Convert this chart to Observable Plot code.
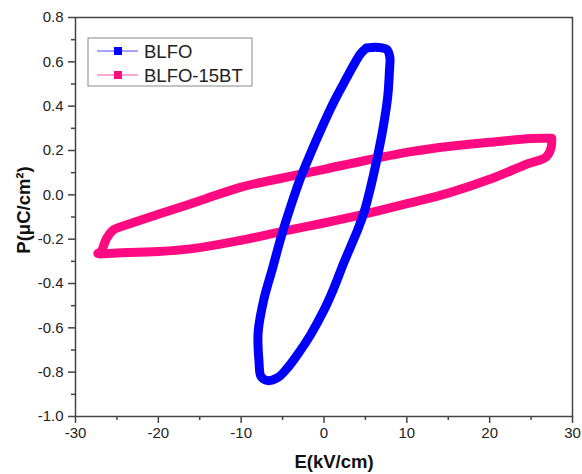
<!DOCTYPE html>
<html>
<head>
<meta charset="utf-8">
<script src="https://cdn.jsdelivr.net/npm/d3@7"></script>
<script src="https://cdn.jsdelivr.net/npm/@observablehq/plot@0.6"></script>
<style>
  html, body { margin: 0; padding: 0; background: #fff; }
  #chart { position: relative; width: 582px; height: 474px; }
</style>
</head>
<body>
<div id="chart"></div>
<script>
// BLFO loop (E in kV/cm, P in μC/cm²), closed
const E_BLFO = [5.1, 6.5, 7.6, 7.95, 7.9, 7.7, 7.1, 6.3, 5.6, 4.9, 4.1, 3.2, 2.3, 1.2, 0.0, -1.6, -3.0, -4.5, -5.6, -6.8, -7.6, -7.85, -7.95, -7.25, -6.2, -5.1, -4.0, -2.9, -1.7, -0.3, 1.2, 2.7, 3.8, 4.5, 5.1];
const P_BLFO = [0.662, 0.665, 0.655, 0.62, 0.56, 0.446, 0.295, 0.145, 0.03, -0.07, -0.155, -0.235, -0.315, -0.42, -0.52, -0.63, -0.71, -0.785, -0.825, -0.838, -0.82, -0.75, -0.62, -0.47, -0.33, -0.18, -0.05, 0.07, 0.18, 0.3, 0.42, 0.525, 0.6, 0.64, 0.662];

// BLFO-15BT loop, closed
const E_BT = [27.5, 25, 20, 15, 10.5, 5, 0, -5, -10, -15, -20, -23, -25.5, -26.3, -26.9, -27.3, -25, -20, -15, -10, -5, 0, 5, 10, 15, 20, 24.6, 26.8, 27.4, 27.5];
const P_BT = [0.255, 0.254, 0.237, 0.218, 0.195, 0.155, 0.115, 0.076, 0.035, -0.027, -0.088, -0.125, -0.16, -0.2, -0.255, -0.265, -0.262, -0.256, -0.238, -0.205, -0.165, -0.127, -0.086, -0.04, 0.008, 0.07, 0.14, 0.17, 0.21, 0.255];

const seriesNames = ["BLFO", "BLFO-15BT"];
const seriesColors = ["#0000ff", "#ff0a80"];

const xTicks = [-30, -20, -10, 0, 10, 20, 30];
const xMinor = [-25, -15, -5, 5, 15, 25];
const yTicks = [-1.0, -0.8, -0.6, -0.4, -0.2, 0.0, 0.2, 0.4, 0.6, 0.8];
const yMinor = [-0.9, -0.7, -0.5, -0.3, -0.1, 0.1, 0.3, 0.5, 0.7];

const xLabel = "E(kV/cm)";
const yLabel = "P(μC/cm²)";

const rowsA = E_BLFO.map((e, i) => ({E: e, P: P_BLFO[i], s: seriesNames[0], i}));
const rowsB = E_BT.map((e, i) => ({E: e, P: P_BT[i], s: seriesNames[1], i}));

const font = "'Liberation Sans', Arial, Helvetica, sans-serif";

const chart = Plot.plot({
  width: 582,
  height: 474,
  marginLeft: 75,
  marginRight: 10,
  marginTop: 17,
  marginBottom: 58,
  style: {fontFamily: font, background: "#fff", color: "#222"},
  x: {domain: [-30, 30]},
  y: {domain: [-1.0, 0.8]},
  marks: [
    Plot.line(rowsB, {x: "E", y: "P", stroke: seriesColors[1], strokeWidth: 9, curve: "catmull-rom", strokeLinejoin: "round", strokeLinecap: "round"}),
    Plot.line(rowsA, {x: "E", y: "P", stroke: seriesColors[0], strokeWidth: 9, curve: "catmull-rom", strokeLinejoin: "round", strokeLinecap: "round"}),
    Plot.frame({stroke: "#444", strokeWidth: 1.5}),
    Plot.axisX({ticks: xTicks, tickSize: 7, tickPadding: 4, tickFormat: d => String(d), fontSize: 15, label: null, stroke: "#444", strokeWidth: 1.5}),
    Plot.axisX({ticks: xMinor, tickSize: 4, tickFormat: null, text: null, label: null, stroke: "#444", strokeWidth: 1.5}),
    Plot.axisY({ticks: yTicks, tickSize: 7, tickPadding: 5, tickFormat: d => d.toFixed(1), fontSize: 15, label: null, stroke: "#444", strokeWidth: 1.5}),
    Plot.axisY({ticks: yMinor, tickSize: 4, text: null, label: null, stroke: "#444", strokeWidth: 1.5}),
    Plot.text([xLabel], {frameAnchor: "bottom", textAnchor: "middle", lineAnchor: "middle", dx: 10, dy: 46, fontSize: 18.5, fontWeight: "bold", fill: "#111"}),
    Plot.text([yLabel], {frameAnchor: "left", textAnchor: "middle", lineAnchor: "middle", rotate: -90, dx: -51, dy: -7, fontSize: 18.5, fontWeight: "bold", fill: "#111"})
  ]
});

// Legend drawn into the same SVG
const svg = d3.select(chart);
const lg = svg.append("g").attr("font-family", font).attr("text-anchor", "start");
lg.append("rect").attr("x", 88).attr("y", 38).attr("width", 164).attr("height", 48)
  .attr("fill", "#fff").attr("stroke", "#888").attr("stroke-width", 1);
seriesNames.forEach((name, k) => {
  const cy = 51 + k * 24;
  lg.append("line").attr("x1", 97).attr("x2", 138).attr("y1", cy).attr("y2", cy)
    .attr("stroke", seriesColors[k]).attr("stroke-width", 1).attr("stroke-opacity", 0.7);
  lg.append("rect").attr("x", 114).attr("y", cy - 4).attr("width", 8).attr("height", 8)
    .attr("fill", seriesColors[k]);
  lg.append("text").attr("x", 144).attr("y", cy + 6.5).attr("font-size", 18.5)
    .attr("text-anchor", "start").attr("fill", "#222").text(name);
});

document.getElementById("chart").appendChild(chart);
</script>
</body>
</html>
